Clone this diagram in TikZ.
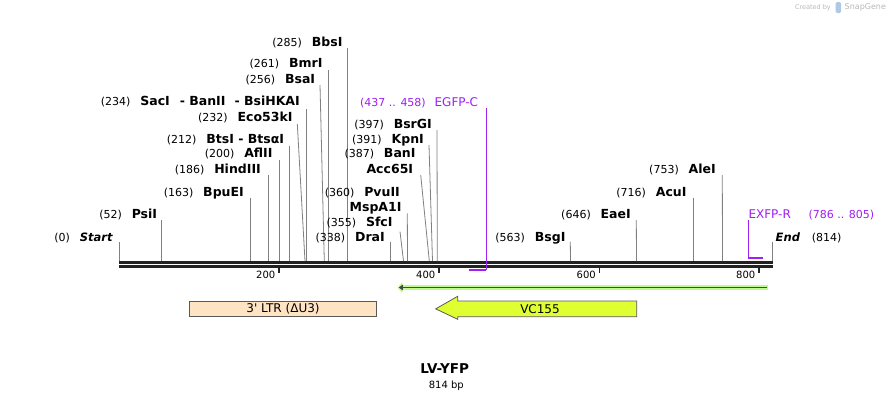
\documentclass[tikz,border=0pt]{standalone}
\usepackage{fontspec}
\setmainfont{DejaVu Sans}
\usetikzlibrary{arrows.meta}

\definecolor{primer}{RGB}{160,32,240}
\definecolor{ltrfill}{RGB}{255,228,196}
\definecolor{vcfill}{RGB}{224,255,48}
\definecolor{glow}{RGB}{190,250,140}
\definecolor{seqline}{RGB}{34,34,34}
\definecolor{logogray}{RGB}{185,185,185}
\definecolor{logoblue}{RGB}{175,200,228}

\tikzset{
  num/.style={font=\fontsize{11}{13}\selectfont, inner sep=0pt, anchor=base east},
  enz/.style={font=\fontsize{12.5}{14}\selectfont\bfseries, inner sep=0pt, anchor=base east},
  cut/.style={draw=black!50, line width=0.8pt},
  primerlbl/.style={font=\fontsize{12}{14}\selectfont, text=primer, inner sep=0pt},
  primerpos/.style={font=\fontsize{11}{13}\selectfont, text=primer, inner sep=0pt},
  tickmark/.style={draw=seqline, line width=1.7pt},
  ticklbl/.style={font=\fontsize{10}{12}\selectfont, inner sep=0pt, anchor=base east},
  feature/.style={draw=black!65, line width=0.8pt},
}

% id, cut x, top x, top y, label x, label baseline, position, enzyme
\newcommand{\cutsite}[8]{%
  \node[enz] (#1) at (#5,#6) {#8};
  \node[num] (#1pos) at ([xshift=-9.5pt]#1.base west) {(#7)};
  \coordinate (#1top) at (#3,#4);
  \coordinate (#1cut) at (#2,261);
  \draw[cut] (#1top) -- (#1cut);
}

\begin{document}
\begin{tikzpicture}[x=1pt,y=-1pt]
  \fill[white] (0,0) rectangle (892,400);
  \useasboundingbox (0,0) rectangle (892,400);

  % sequence
  \coordinate (seqL) at (119,262.8);
  \coordinate (seqR) at (772.7,262.8);
  \draw[seqline, line width=3.2pt] (seqL) -- (seqR);
  \draw[seqline, line width=2.4pt] ([yshift=-3.6pt]seqL) -- ([yshift=-3.6pt]seqR);
  \foreach \t/\x in {200/279,400/439,600/599.5,800/759}{
    \coordinate (tk\t) at (\x,267.6);
    \draw[tickmark] (tk\t) -- ++(0,5.8);
    \node[ticklbl] (tl\t) at ({\x-3.5},278) {\t};
  }

  % cut sites, left half
  \node[enz] (start) at (112.7,241) {\fontsize{11.5}{13}\selectfont\itshape Start};
  \node[num] (startpos) at ([xshift=-9.5pt]start.base west) {(0)};
  \coordinate (starttop) at (119.3,242.3);
  \draw[cut] (starttop) -- (119.3,261);
  \cutsite{psi}{161.3}{161.3}{220}{157.3}{218.3}{52}{PsiI}
  \cutsite{bpu}{250.3}{250.3}{198.3}{244}{196}{163}{BpuEI}
  \cutsite{hind}{268.7}{268.7}{175}{261}{173.3}{186}{HindIII}
  \cutsite{afl}{279.3}{279.3}{160}{272.7}{157.6}{200}{AflII}
  \cutsite{bts}{289.3}{289.3}{145.7}{284.3}{143}{212}{BtsI - BtsαI}
  \cutsite{eco}{305}{297.3}{124}{292.7}{121.6}{232}{Eco53kI}
  \cutsite{sac}{306.5}{306.5}{109}{300}{105.3}{234}{SacI\hspace{10pt}- BanII\hspace{9pt}- BsiHKAI}
  \cutsite{bsa}{324.3}{320}{85}{315.3}{83.3}{256}{BsaI}
  \cutsite{bmr}{328.3}{328.3}{70}{322.7}{67.6}{261}{BmrI}
  \cutsite{bbs}{347.3}{347.3}{48}{342.7}{46.6}{285}{BbsI}

  % cut sites, middle
  \cutsite{dra}{390.3}{390.3}{241.7}{385}{241}{338}{DraI}
  \cutsite{sfc}{403.5}{400}{231.7}{392.7}{226.6}{355}{SfcI}
  \cutsite{pvu}{407.5}{407.3}{213.3}{400}{196}{360}{PvuII}
  \node[enz] (msp) at (401.7,211) {MspA1I};
  \cutsite{ban}{429.3}{420.7}{175}{415.7}{157.6}{387}{BanI}
  \node[enz] (acc) at (413.3,173.3) {Acc65I};
  \cutsite{kpn}{432.5}{429}{145}{424}{143.3}{391}{KpnI}
  \cutsite{bsrg}{437.3}{437}{130}{432}{128.3}{397}{BsrGI}

  % cut sites, right half
  \cutsite{bsg}{570.5}{570.3}{241.7}{565.7}{241.6}{563}{BsgI}
  \cutsite{eae}{636.5}{636.3}{220}{631}{218.6}{646}{EaeI}
  \cutsite{acu}{693.3}{693.3}{197.7}{686.7}{196.6}{716}{AcuI}
  \cutsite{ale}{722.5}{722.3}{175}{716}{173.3}{753}{AleI}
  \node[enz, anchor=base west] (end) at (775.5,241.6) {\fontsize{11.5}{13}\selectfont\itshape End};
  \node[num, anchor=base west] (endpos) at (811.7,241.6) {(814)};
  \coordinate (endtop) at (772.7,242);
  \draw[cut] (endtop) -- (772.7,261);

  % primers
  \node[primerlbl, anchor=base east] (egfp) at (478.3,106) {EGFP-C};
  \node[primerpos, anchor=base east] (egfppos) at (426,106) {(437 .. 458)};
  \coordinate (egfptop) at (486.3,108.3);
  \coordinate (egfpend) at (486.3,270.3);
  \draw[primer, line width=1.2pt] (egfptop) -- (egfpend);
  \draw[primer, line width=2pt] (469,270.3) -- (egfpend);
  \node[primerlbl, anchor=base west] (exfp) at (748.3,218.3) {EXFP-R};
  \node[primerpos, anchor=base west] (exfppos) at (808.3,218.3) {(786 .. 805)};
  \coordinate (exfptop) at (748.8,220);
  \coordinate (exfpend) at (748.8,257.7);
  \draw[primer, line width=1.2pt] (exfptop) -- (exfpend);
  \draw[primer, line width=2pt] ([xshift=-0.5pt]exfpend) -- (762.7,257.7);

  % features
  \coordinate (orfR) at (768.3,287.5);
  \coordinate (orfL) at (397.3,287.5);
  \draw[glow, line width=5.5pt, -{Triangle[length=5pt,width=10pt]}] (orfR) -- (orfL);
  \draw[black!72, line width=1.8pt, -{Triangle[length=4pt,width=5.5pt]}] ([xshift=-1.5pt]orfR) -- ([xshift=1.5pt]orfL);
  \node[feature, fill=ltrfill, minimum width=187.4pt, minimum height=15.7pt,
        inner sep=0pt, font=\fontsize{12}{14}\selectfont] (ltr) at (283,308.85) {3\textquotesingle{} LTR (ΔU3)};
  \draw[feature, fill=vcfill] (636.7,301) -- (457.7,301) -- (457.7,296.3) -- (435.7,308.85)
    -- (457.7,319.3) -- (457.7,316.7) -- (636.7,316.7) -- cycle;
  \node[font=\fontsize{12}{14}\selectfont, inner sep=0pt] (vc) at (540,308.85) {VC155};

  % title
  \node[font=\fontsize{13.5}{16}\selectfont\bfseries, inner sep=0pt] (title) at (444.7,369) {LV-YFP};
  \node[font=\fontsize{10}{12}\selectfont, inner sep=0pt, anchor=base] (size) at (446.3,388) {814 bp};

  % logo
  \node[font=\fontsize{6.5}{8}\selectfont, text=logogray, inner sep=0pt, anchor=east] (made) at (831,7.5) {Created by};
  \fill[logoblue, rounded corners=1.5pt] (835.5,2) rectangle (841,13);
  \node[font=\fontsize{8}{10}\selectfont, text=logogray, inner sep=0pt, anchor=west] (sg) at (844.5,7.5) {SnapGene};
\end{tikzpicture}
\end{document}
